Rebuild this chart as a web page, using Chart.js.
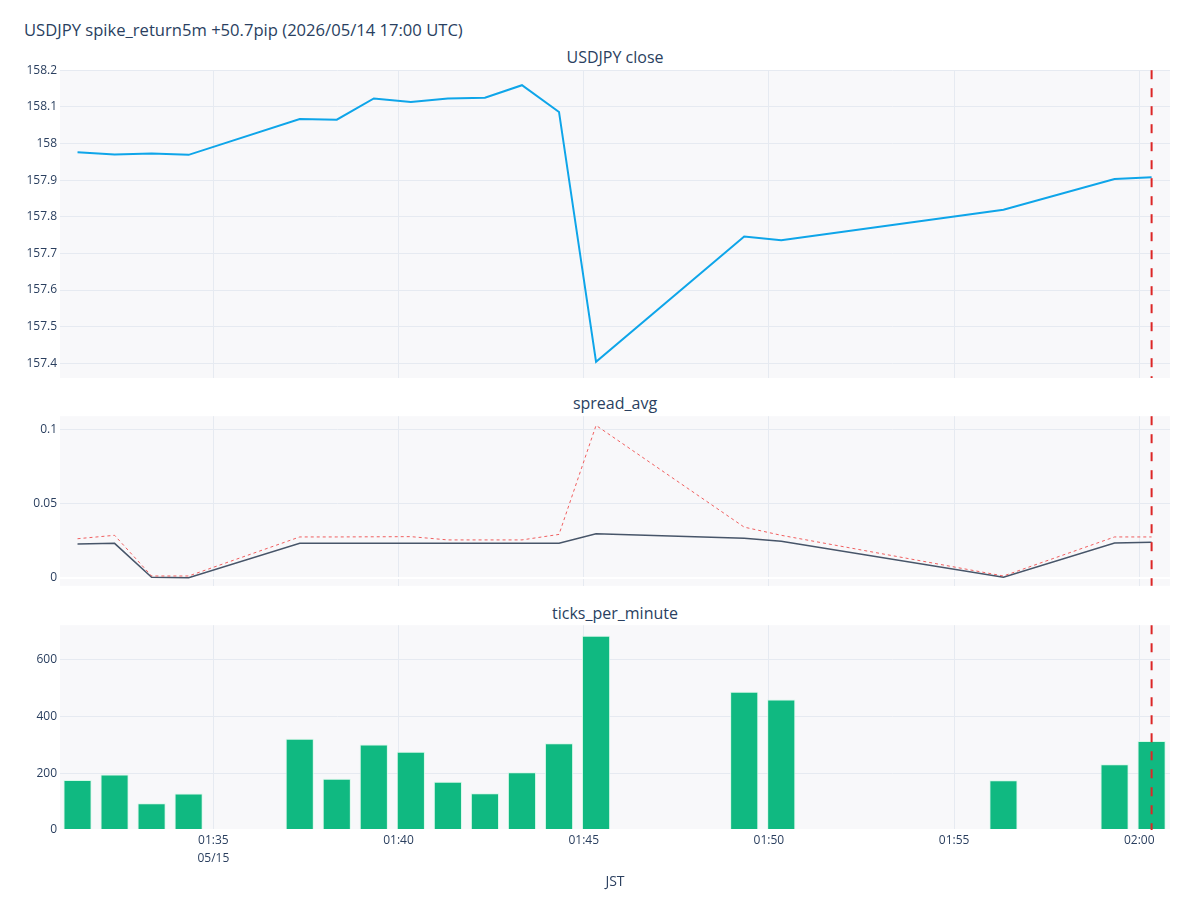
<!DOCTYPE html>
<html>
<head>
<meta charset="utf-8">
<script src="https://cdn.jsdelivr.net/npm/chart.js@4.4.1/dist/chart.umd.min.js"></script>
<style>
  body { margin: 0; width: 1200px; height: 900px; background: #fff; position: relative; overflow: hidden;
    font-family: 'Open Sans', sans-serif; color: #2a3f5f }
  .ttl { position: absolute; left: 24px; top: 20px; font-size: 16.6px; line-height: 20px; white-space: nowrap }
  .sub { position: absolute; left: 60px; width: 1110px; text-align: center; font-size: 16px; line-height: 20px }
  .pane { position: absolute; left: 0; width: 1200px }
</style>
</head>
<body>
<div class="ttl">USDJPY spike_return5m +50.7pip (2026/05/14 17:00 UTC)</div>
<div class="sub" style="top:47px">USDJPY close</div>
<div class="sub" style="top:393px">spread_avg</div>
<div class="sub" style="top:603px">ticks_per_minute</div>

<div class="pane" style="top:60px;height:330px"><canvas id="c1" width="1200" height="330"></canvas></div>
<div class="pane" style="top:406px;height:190px"><canvas id="c2" width="1200" height="190"></canvas></div>
<div class="pane" style="top:615px;height:285px"><canvas id="c3" width="1200" height="285"></canvas></div>

<script>
'use strict'

// minute stamps (JST), 05/15
var times = ['01:31:20', '01:32:20', '01:33:20', '01:34:20', '01:37:20', '01:38:20',
  '01:39:20', '01:40:20', '01:41:20', '01:42:20', '01:43:20', '01:44:20', '01:45:20',
  '01:49:20', '01:50:20', '01:56:20', '01:59:20', '02:00:20']
var spikeTime = '02:00:20'

var closeVals = [157.976, 157.970, 157.973, 157.969, 158.067, 158.065, 158.123, 158.113,
  158.123, 158.125, 158.159, 158.086, 157.404, 157.746, 157.736, 157.819, 157.903, 157.908]

var spreadAvg = [0.0229, 0.0233, 0.0005, 0.0002, 0.0233, 0.0233, 0.0234, 0.0234,
  0.0233, 0.0233, 0.0234, 0.0234, 0.0298, 0.0267, 0.0247, 0.0005, 0.0235, 0.0240]
var spreadMax = [0.0264, 0.0287, 0.0013, 0.0013, 0.0276, 0.0276, 0.0277, 0.0278,
  0.0256, 0.0256, 0.0256, 0.0293, 0.1027, 0.0342, 0.0287, 0.0013, 0.0276, 0.0276]

var ticksPerMin = [176, 195, 94, 128, 321, 180, 301, 275, 170, 129, 203, 305, 683,
  486, 459, 175, 231, 313]

var xTicks = ['01:35', '01:40', '01:45', '01:50', '01:55', '02:00']
var closeTicks = [157.4, 157.5, 157.6, 157.7, 157.8, 157.9, 158, 158.1, 158.2]
var spreadTicks = [0, 0.05, 0.1]
var countTicks = [0, 200, 400, 600]

var toMin = function (s) {
  var p = s.split(':').map(Number)
  return (p[0] - 1) * 60 + p[1] + (p[2] || 0) / 60
}
var xs = times.map(toMin)
var pts = function (vals) {
  return vals.map(function (v, i) { return { x: xs[i], y: v } })
}

var GRID = '#e6eaf1'
var TXT = '#2a3f5f'
var FONT = "'Open Sans', sans-serif"

var plotBg = {
  id: 'plotBg',
  beforeDraw: function (chart) {
    var a = chart.chartArea
    var ctx = chart.ctx
    ctx.save()
    ctx.fillStyle = '#f8f8fa'
    ctx.fillRect(a.left, a.top, a.right - a.left, a.bottom - a.top)
    ctx.restore()
  }
}

var spikeLine = {
  id: 'spikeLine',
  afterDatasetsDraw: function (chart) {
    var a = chart.chartArea
    var x = chart.scales.x.getPixelForValue(toMin(spikeTime))
    var ctx = chart.ctx
    ctx.save()
    ctx.strokeStyle = '#dc2626'
    ctx.lineWidth = 2
    ctx.setLineDash([9, 9])
    ctx.beginPath()
    ctx.moveTo(x, a.top)
    ctx.lineTo(x, a.bottom)
    ctx.stroke()
    ctx.restore()
  }
}

var fixTicks = function (list) {
  return function (scale) {
    scale.ticks = list.map(function (v) { return { value: v } })
  }
}

var xScale = function (showLabels) {
  return {
    type: 'linear',
    min: 30.86,
    max: 60.83,
    offset: false,
    afterBuildTicks: fixTicks(xTicks.map(toMin)),
    afterFit: showLabels ? function (s) { s.height = 70 } : undefined,
    border: { display: false },
    grid: { color: GRID, drawTicks: false, offset: false },
    ticks: {
      display: showLabels,
      autoSkip: false,
      maxRotation: 0,
      padding: 2,
      color: TXT,
      font: { family: FONT, size: 12, lineHeight: 1.45 },
      callback: function (v, i) {
        return i === 0 ? [xTicks[i], '05/15'] : xTicks[i]
      }
    },
    title: {
      display: showLabels,
      text: 'JST',
      color: TXT,
      font: { family: FONT, size: 14 },
      padding: { top: 4, bottom: 10 }
    }
  }
}

var yScale = function (min, max, list, fmt) {
  return {
    type: 'linear',
    min: min,
    max: max,
    afterBuildTicks: fixTicks(list),
    afterFit: function (s) { s.width = 60 },
    border: { display: false },
    grid: {
      drawTicks: false,
      color: function (c) { return c.tick && c.tick.value === 0 ? '#ffffff' : GRID },
      lineWidth: function (c) { return c.tick && c.tick.value === 0 ? 2 : 1 }
    },
    ticks: {
      padding: 3,
      color: TXT,
      font: { family: FONT, size: 12 },
      callback: fmt
    }
  }
}

var baseOpts = function (pad, scales) {
  return {
    responsive: false,
    animation: false,
    layout: { padding: { left: 0, right: 30, top: pad[0], bottom: pad[1] } },
    plugins: { legend: { display: false }, tooltip: { enabled: false } },
    elements: { point: { radius: 0 }, line: { tension: 0 } },
    scales: scales
  }
}

var plain = function (v) { return String(+v.toFixed(3)) }

new Chart(document.getElementById('c1'), {
  type: 'line',
  data: {
    datasets: [{ data: pts(closeVals), borderColor: '#0ea5e9', borderWidth: 2 }]
  },
  options: baseOpts([10, 12], {
    x: xScale(false),
    y: yScale(157.36, 158.2, closeTicks, plain)
  }),
  plugins: [plotBg, spikeLine]
})

new Chart(document.getElementById('c2'), {
  type: 'line',
  data: {
    datasets: [
      { data: pts(spreadMax), borderColor: 'rgba(239,68,68,0.85)', borderWidth: 1, borderDash: [3, 3] },
      { data: pts(spreadAvg), borderColor: '#475569', borderWidth: 1.5 }
    ]
  },
  options: baseOpts([10, 9], {
    x: xScale(false),
    y: yScale(-0.0053, 0.1089, spreadTicks, plain)
  }),
  plugins: [plotBg, spikeLine]
})

new Chart(document.getElementById('c3'), {
  type: 'bar',
  data: {
    datasets: [{
      data: pts(ticksPerMin),
      backgroundColor: '#10b981',
      borderColor: 'rgba(209,250,229,0.9)',
      borderWidth: 1,
      barPercentage: 0.95,
      categoryPercentage: 0.8
    }]
  },
  options: baseOpts([10, 0], {
    x: xScale(true),
    y: yScale(0, 720, countTicks, plain)
  }),
  plugins: [plotBg, spikeLine]
})
</script>
</body>
</html>
